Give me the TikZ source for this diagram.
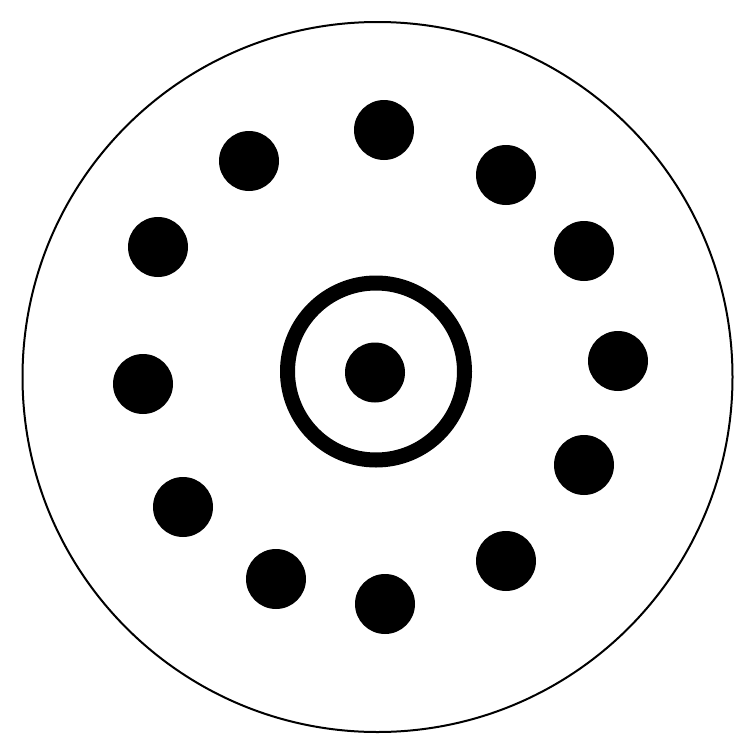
\documentclass[tikz,border=0pt]{standalone}
\begin{document}
\begin{tikzpicture}[x=1pt,y=-1pt,
  dot/.style={circle,fill=black,inner sep=0pt,minimum size=60pt}]
\useasboundingbox (0,0) rectangle (755,755);
\draw[line width=2pt] (377.5,377) circle (355);
\draw[line width=15pt] (376,371.5) circle (88.5);
\node[dot] (c) at (375,372.5) {};
\node[dot] (d1) at (384,130) {};
\node[dot] (d2) at (249,161) {};
\node[dot] (d3) at (506,175) {};
\node[dot] (d4) at (158,247) {};
\node[dot] (d5) at (584,251) {};
\node[dot] (d6) at (618,361) {};
\node[dot] (d7) at (143,384) {};
\node[dot] (d8) at (584,465) {};
\node[dot] (d9) at (183,507) {};
\node[dot] (d10) at (506,561) {};
\node[dot] (d11) at (276,579) {};
\node[dot] (d12) at (385,604) {};
\end{tikzpicture}
\end{document}
